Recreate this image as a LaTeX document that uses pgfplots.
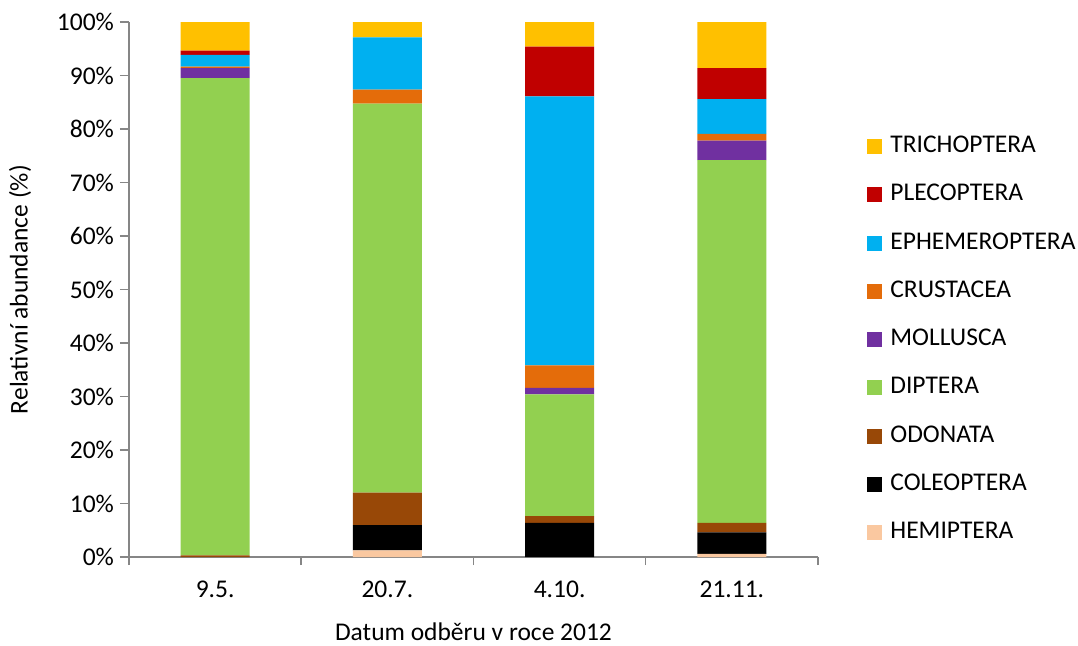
\documentclass[border=0pt]{standalone}
\usepackage{fontspec}
\setmainfont{Carlito}
\usepackage{pgfplots}
\pgfplotsset{compat=1.18}
\definecolor{cTri}{HTML}{FFC000}
\definecolor{cPle}{HTML}{C00000}
\definecolor{cEph}{HTML}{00B0F0}
\definecolor{cCru}{HTML}{E46C0A}
\definecolor{cMol}{HTML}{7030A0}
\definecolor{cDip}{HTML}{92D050}
\definecolor{cOdo}{HTML}{984807}
\definecolor{cCol}{HTML}{000000}
\definecolor{cHem}{HTML}{FAC8A0}
\definecolor{axisgray}{HTML}{868686}
\begin{document}
\begin{tikzpicture}
\path[use as bounding box] (-64.5pt,-44pt) rectangle (474.5pt,278.5pt);
\begin{axis}[
  scale only axis, width=344.5pt, height=267.5pt,
  at={(0,0)}, anchor=south west,
  ybar stacked, bar width=34.5pt,
  xmin=-0.5, xmax=3.5, ymin=0, ymax=100,
  xtick={0,1,2,3}, xticklabels={9.5.,20.7.,4.10.,21.11.},
  minor xtick={-0.5,0.5,1.5,2.5,3.5},
  ytick={0,10,...,100},
  yticklabel={\pgfmathprintnumber{\tick}\%},
  axis x line*=bottom, axis y line*=left,
  axis line style={draw=axisgray, line width=0.75pt, -},
  tick style={draw=axisgray, line width=0.75pt},
  major x tick style={draw=none},
  tick align=outside,
  major tick length=4.5pt, minor tick length=4pt,
  /pgf/number format/assume math mode=true,
  font=\fontsize{12.75}{15}\selectfont,
  tick label style={font=\fontsize{12.75}{15}\selectfont},
  x tick label style={yshift=-4pt},
  y tick label style={xshift=0.5pt},
  xlabel={Datum odběru v roce 2012},
  ylabel={Relativní abundance (\%)},
  xlabel style={at={(axis description cs:0.5,-0.14)}, anchor=center},
  ylabel style={at={(axis description cs:-0.158,0.5)}, anchor=center},
  reverse legend,
  legend image code/.code={\fill[#1] (0pt,-3.75pt) rectangle (7.5pt,3.75pt);},
  legend cell align=left,
  legend style={draw=none, fill=none, at={(rel axis cs:1.0624,0.7944)}, anchor=north west,
    font=\fontsize{12.75}{15}\selectfont,
    row sep=14.15pt,
    nodes={inner sep=0pt, text height=8pt, text depth=2pt},
    /tikz/every odd column/.append style={column sep=4pt}},
  every axis plot/.append style={draw=none},
]
\addplot[fill=cHem] coordinates {(0,0) (1,1.25) (2,0) (3,0.6)};
\addlegendentry{HEMIPTERA}
\addplot[fill=cCol] coordinates {(0,0) (1,4.7) (2,6.4) (3,4.0)};
\addlegendentry{COLEOPTERA}
\addplot[fill=cOdo] coordinates {(0,0.3) (1,6.1) (2,1.25) (3,1.8)};
\addlegendentry{ODONATA}
\addplot[fill=cDip] coordinates {(0,89.2) (1,72.7) (2,22.75) (3,67.8)};
\addlegendentry{DIPTERA}
\addplot[fill=cMol] coordinates {(0,1.9) (1,0) (2,1.2) (3,3.65)};
\addlegendentry{MOLLUSCA}
\addplot[fill=cCru] coordinates {(0,0.25) (1,2.6) (2,4.2) (3,1.25)};
\addlegendentry{CRUSTACEA}
\addplot[fill=cEph] coordinates {(0,2.2) (1,9.8) (2,50.3) (3,6.5)};
\addlegendentry{EPHEMEROPTERA}
\addplot[fill=cPle] coordinates {(0,0.8) (1,0) (2,9.3) (3,5.8)};
\addlegendentry{PLECOPTERA}
\addplot[fill=cTri] coordinates {(0,5.35) (1,2.85) (2,4.6) (3,8.6)};
\addlegendentry{TRICHOPTERA}
\end{axis}
\end{tikzpicture}
\end{document}
